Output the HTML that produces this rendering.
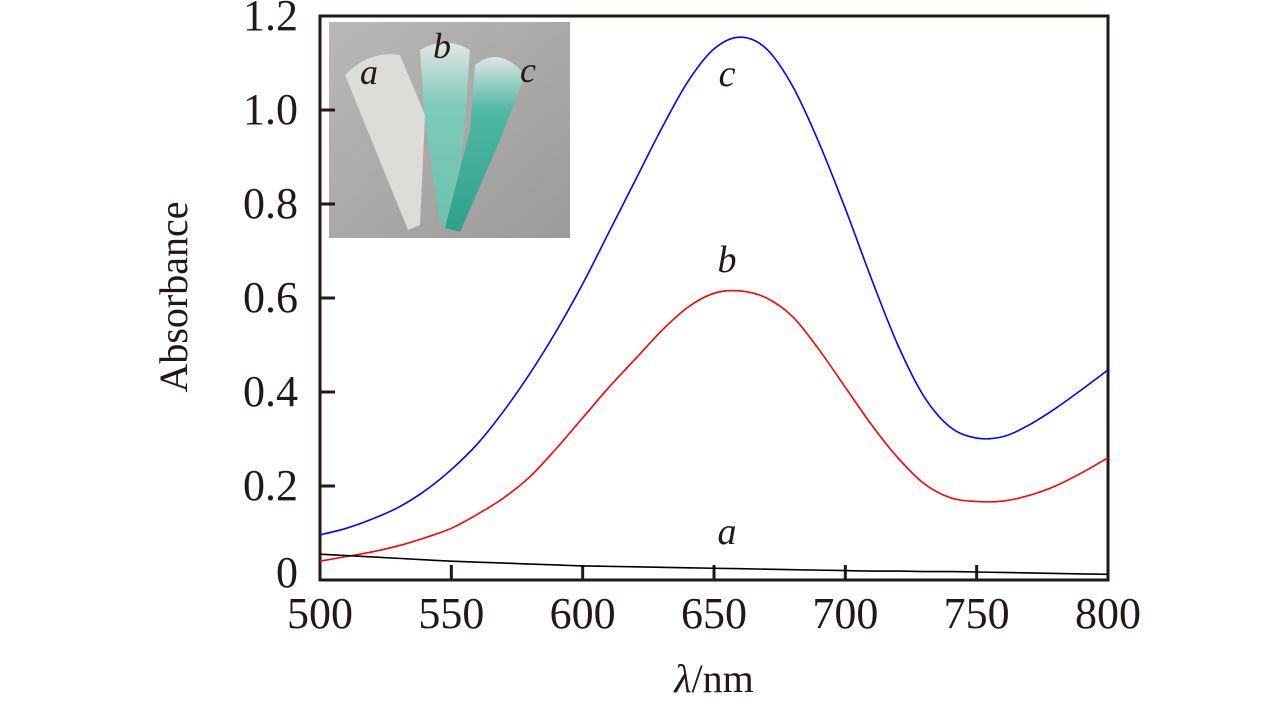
<!DOCTYPE html>
<html><head><meta charset="utf-8"><style>
body{margin:0;background:#fff;}
svg text{font-family:"Liberation Serif",serif;fill:#231815;}
</style></head><body>
<svg id="chart" width="1283" height="709" xmlns="http://www.w3.org/2000/svg">
<rect width="1283" height="709" fill="#fff"/>
<g>
<defs>
<linearGradient id="bg" x1="0" y1="0" x2="1" y2="1"><stop offset="0" stop-color="#b9b8b6"/><stop offset="1" stop-color="#9c9b99"/></linearGradient>
<linearGradient id="tc" x1="0" y1="0" x2="0" y2="1"><stop offset="0" stop-color="#dfe6e4"/><stop offset="0.3" stop-color="#4fb9a3"/><stop offset="1" stop-color="#2fa08a"/></linearGradient>
<linearGradient id="tb" x1="0" y1="0" x2="0" y2="1"><stop offset="0" stop-color="#e2e6e5"/><stop offset="0.35" stop-color="#7dcab8"/><stop offset="1" stop-color="#6fc2af"/></linearGradient>
</defs>
<rect x="329" y="22" width="241" height="216" fill="url(#bg)"/>
<path d="M345 75 Q370 50 400 55 L425 115 L420 225 L408 230 Z" fill="#dedcd9"/>
<path d="M420 50 Q445 35 470 50 L465 120 L455 225 L440 225 L425 120 Z" fill="url(#tb)"/>
<path d="M475 65 Q500 45 525 75 L500 140 L460 232 L445 228 L470 130 Z" fill="url(#tc)"/>
<text x="360" y="84" font-size="36" font-style="italic">a</text>
<text x="433" y="58" font-size="36" font-style="italic">b</text>
<text x="520" y="82" font-size="36" font-style="italic">c</text>
</g>
<g id="axes"></g>
<g id="series"></g>
<text x="727" y="86" font-size="38" font-style="italic" text-anchor="middle">c</text>
<text x="727" y="272" font-size="38" font-style="italic" text-anchor="middle">b</text>
<text x="727" y="544" font-size="38" font-style="italic" text-anchor="middle">a</text>
<text x="0" y="0" font-size="40" text-anchor="middle" transform="translate(187,297) rotate(-90)">Absorbance</text>
<text x="714" y="692" font-size="40" text-anchor="middle"><tspan font-style="italic">λ</tspan>/nm</text>
</svg>
<script>
const wavelengths=[500,510,520,530,540,550,560,570,580,590,600,610,620,630,640,650,660,670,680,690,700,710,720,730,740,750,760,770,780,790,800];
const seriesC=[.096,.11,.13,.155,.19,.235,.29,.36,.44,.53,.63,.74,.85,.96,1.06,1.13,1.155,1.13,1.05,.93,.79,.64,.5,.39,.325,.302,.305,.33,.365,.405,.447];
const seriesB=[.04,.05,.06,.073,.09,.11,.14,.175,.22,.28,.345,.41,.47,.53,.58,.61,.615,.6,.56,.49,.41,.33,.26,.205,.175,.167,.168,.18,.2,.228,.26];
const seriesA=[.055,.052,.049,.046,.043,.04,.038,.036,.034,.032,.03,.029,.028,.027,.026,.025,.024,.023,.022,.021,.02,.019,.019,.018,.018,.017,.016,.015,.014,.013,.012];
const xTicks=[500,550,600,650,700,750,800];
const yTicks=[0,0.2,0.4,0.6,0.8,1.0,1.2];
const yTickLabels=["0","0.2","0.4","0.6","0.8","1.0","1.2"];
const X0=320,X1=1108,Y0=580,Y1=16;
const xs=v=>X0+(v-500)/300*(X1-X0);
const ys=v=>Y0-v/1.2*(Y0-Y1);
const NS="http://www.w3.org/2000/svg";
const axes=document.getElementById('axes');
function mk(tag,attrs,parent){const e=document.createElementNS(NS,tag);for(const k in attrs)e.setAttribute(k,attrs[k]);parent.appendChild(e);return e;}
const frame=mk('rect',{x:X0,y:Y1,width:X1-X0,height:Y0-Y1,fill:'none',stroke:'#231815','stroke-width':3},axes);


xTicks.forEach(t=>{
 const l=mk('line',{x1:xs(t),x2:xs(t),y1:Y0,y2:Y0-15,stroke:'#231815','stroke-width':3},axes);
 
 
 const tx=mk('text',{x:xs(t),y:628,'font-size':44,'text-anchor':'middle'},axes);
 tx.textContent=t;
 
 
});
yTicks.forEach((t,i)=>{
 const l=mk('line',{x1:X0,x2:X0+15,y1:ys(t),y2:ys(t),stroke:'#231815','stroke-width':3},axes);
 
 
 const tx=mk('text',{x:298,y:ys(t)+14-(i===0?7:0),'font-size':44,'text-anchor':'end'},axes);
 tx.textContent=yTickLabels[i];
 
 
});
function smooth(vals){
 const p=wavelengths.map((w,i)=>[xs(w),ys(vals[i])]);
 let d=`M${p[0][0]},${p[0][1]}`;
 for(let i=0;i<p.length-1;i++){
  const a=p[Math.max(i-1,0)],b=p[i],c=p[i+1],e=p[Math.min(i+2,p.length-1)];
  d+=` C${b[0]+(c[0]-a[0])/6},${b[1]+(c[1]-a[1])/6} ${c[0]-(e[0]-b[0])/6},${c[1]-(e[1]-b[1])/6} ${c[0]},${c[1]}`;
 }
 return d;
}
const sg=document.getElementById('series');
const pc=mk('path',{d:smooth(seriesC),fill:'none',stroke:'#0000ff','stroke-width':1.6},sg);


const pb=mk('path',{d:smooth(seriesB),fill:'none',stroke:'#ff0000','stroke-width':1.6},sg);


const pa=mk('path',{d:smooth(seriesA),fill:'none',stroke:'#000','stroke-width':1.6},sg);


</script>
</body></html>
